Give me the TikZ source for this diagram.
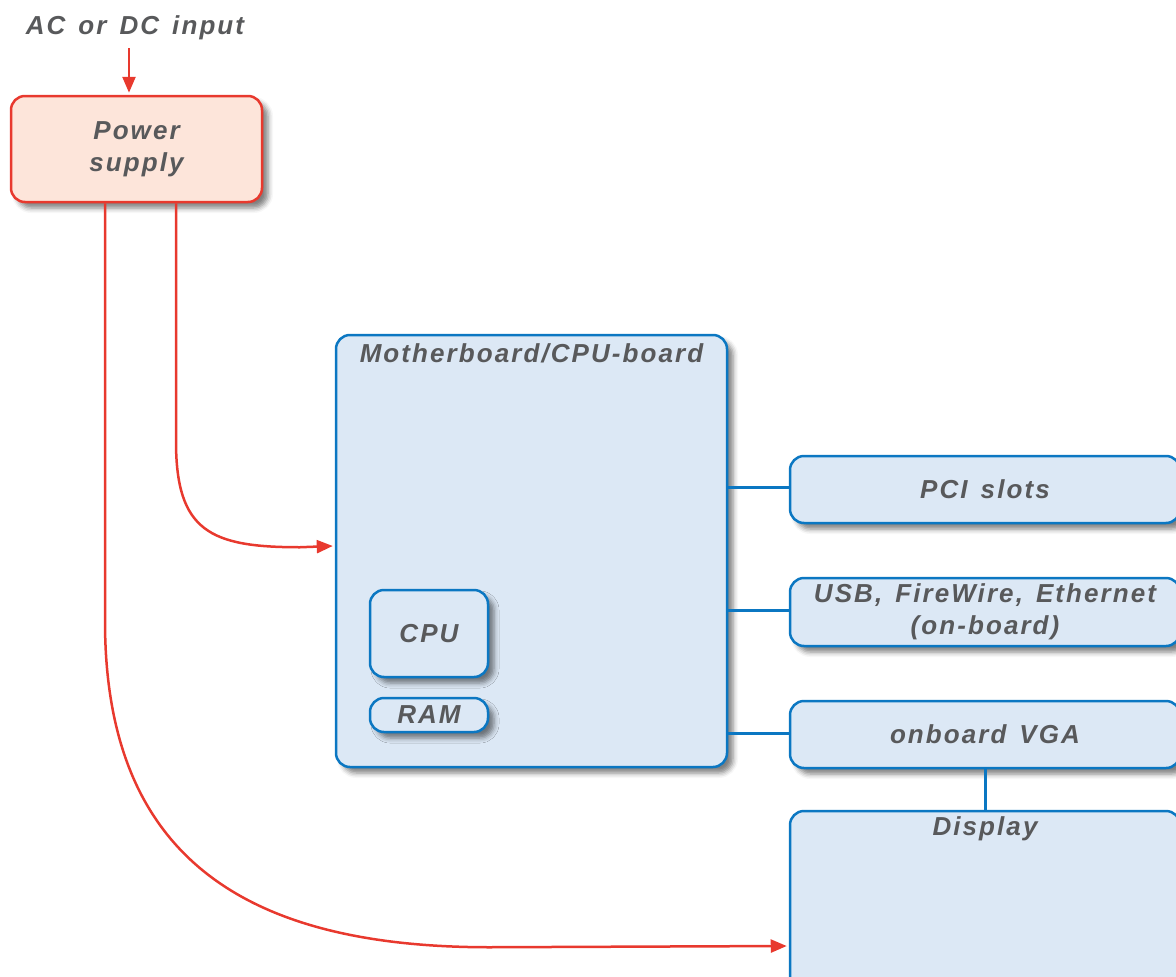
\documentclass[tikz,border=0pt]{standalone}
\usepackage{fontspec}
\setmainfont{Liberation Sans}[LetterSpace=8,WordSpace=1.4]
\usetikzlibrary{shadows,shadows.blur,arrows.meta}
\definecolor{txtgray}{HTML}{58595B}
\definecolor{bluestroke}{HTML}{0B77C2}
\definecolor{bluefill}{HTML}{DCE8F5}
\definecolor{redstroke}{HTML}{E8392E}
\definecolor{redfill}{HTML}{FDE5DA}
\tikzset{
  lbl/.style={font=\fontsize{26}{32}\selectfont\bfseries\itshape, text=txtgray, align=center, inner sep=0pt},
  box/.style={draw=bluestroke, fill=bluefill, line width=2.5pt, rounded corners=14pt, inner sep=0pt,
    blur shadow={shadow xshift=6pt, shadow yshift=-6pt, shadow blur radius=5pt, shadow opacity=50}},
  redbox/.style={box, draw=redstroke, fill=redfill},
  pwr/.style={draw=redstroke, line width=2.5pt, -{Triangle[length=16pt,width=13pt]}},
  bus/.style={draw=bluestroke, line width=3pt},
}
\begin{document}
\begin{tikzpicture}[x=1pt,y=-1pt]
\useasboundingbox (0,0) rectangle (1176,977);
\clip (0,0) rectangle (1176,977);
\node[lbl] (input) at (135,28) {AC or DC input};
\node[redbox, lbl, minimum width=251pt, minimum height=106pt] (ps) at (136.5,149) {Power\\supply};
\node[box, minimum width=391pt, minimum height=432pt] (mb) at (531.5,551) {};
\node[lbl] (mbt) at (531.5,353) {Motherboard/CPU-board};
\node[box, lbl, minimum width=118pt, minimum height=87pt] (cpu) at (429,633.5) {CPU};
\node[box, lbl, minimum width=118pt, minimum height=34pt] (ram) at (429,715) {RAM};
\node[box, lbl, minimum width=390pt, minimum height=67pt] (pci) at (985,489.5) {PCI slots};
\node[box, lbl, minimum width=390pt, minimum height=68pt] (usb) at (985,612) {USB, FireWire, Ethernet\\(on-board)};
\node[box, lbl, minimum width=390pt, minimum height=67pt] (vga) at (985,734.5) {onboard VGA};
\node[box, minimum width=390pt, minimum height=178pt] (disp) at (985,900) {};
\node[lbl] (dispt) at (985,829) {Display};
% connectors
\draw[bus] ([yshift=2pt]mb.east |- pci.west) -- ([yshift=2pt]pci.west);
\draw[bus] ([yshift=2pt]mb.east |- usb.west) -- ([yshift=2pt]usb.west);
\draw[bus] ([yshift=1.5pt]mb.east |- vga.west) -- ([yshift=1.5pt]vga.west);
\draw[bus] (vga.south) -- (disp.north);
\draw[pwr] ([xshift=-6pt,yshift=-8pt]input.south) -- ([xshift=-7.5pt,yshift=2pt]ps.north);
\draw[pwr] ([xshift=39.5pt]ps.south) -- ++(0,238) .. controls ++(0,90) and ++(-90,0) .. ++(124,106) -- ([yshift=5pt,xshift=-2pt]mb.west);
\draw[pwr] ([xshift=-31.5pt]ps.south) -- ++(0,418) .. controls ++(0,240) and ++(-240,0) .. ++(385,326) -- ([yshift=-46pt,xshift=-2pt]disp.west);
\end{tikzpicture}
\end{document}
